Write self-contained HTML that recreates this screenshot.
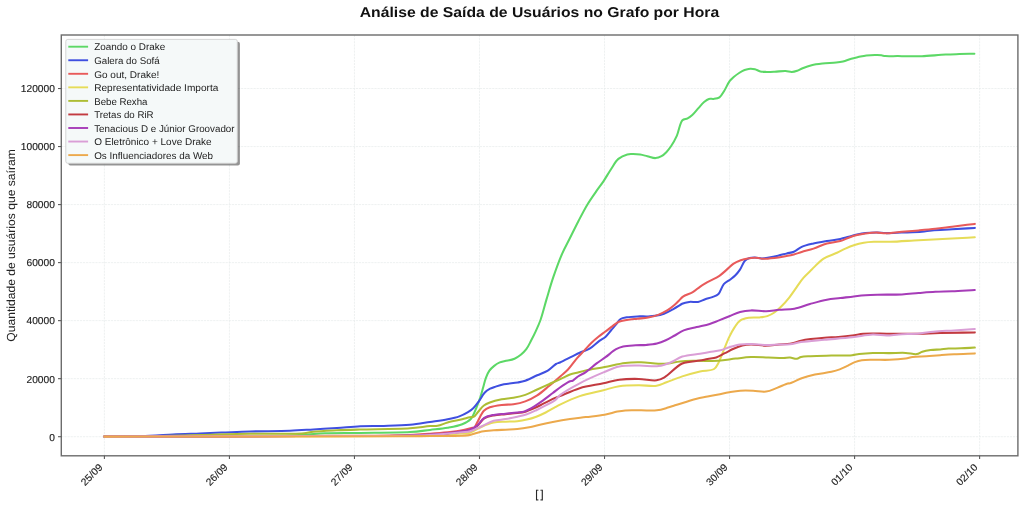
<!DOCTYPE html>
<html><head><meta charset="utf-8"><style>
html,body{margin:0;padding:0;background:#fff;}
svg{display:block;will-change:transform;}
text{font-family:"Liberation Sans", sans-serif;text-rendering:geometricPrecision;}
</style></head><body>
<svg width="1024" height="507" viewBox="0 0 1024 507">
<rect x="0" y="0" width="1024" height="507" fill="#ffffff"/>

<text x="359.7" y="17.3" font-size="14.20" font-weight="bold" fill="#111" textLength="359.54" lengthAdjust="spacingAndGlyphs">Análise de Saída de Usuários no Grafo por Hora</text>
<g stroke="#e6ebeb" stroke-width="0.7" stroke-dasharray="2.2,0.9"><line x1="104.40" y1="35.0" x2="104.40" y2="455.8"/><line x1="229.43" y1="35.0" x2="229.43" y2="455.8"/><line x1="354.46" y1="35.0" x2="354.46" y2="455.8"/><line x1="479.49" y1="35.0" x2="479.49" y2="455.8"/><line x1="604.52" y1="35.0" x2="604.52" y2="455.8"/><line x1="729.55" y1="35.0" x2="729.55" y2="455.8"/><line x1="854.58" y1="35.0" x2="854.58" y2="455.8"/><line x1="979.61" y1="35.0" x2="979.61" y2="455.8"/><line x1="61.3" y1="436.70" x2="1017.9" y2="436.70"/><line x1="61.3" y1="378.67" x2="1017.9" y2="378.67"/><line x1="61.3" y1="320.64" x2="1017.9" y2="320.64"/><line x1="61.3" y1="262.61" x2="1017.9" y2="262.61"/><line x1="61.3" y1="204.58" x2="1017.9" y2="204.58"/><line x1="61.3" y1="146.55" x2="1017.9" y2="146.55"/><line x1="61.3" y1="88.52" x2="1017.9" y2="88.52"/></g>
<path d="M104.4,436.6 C136.27,436.53 173.25,436.53 200.0,436.4 C219.34,436.30 234.26,436.16 250.0,436.0 C264.08,435.86 279.37,435.90 290.0,435.5 C297.06,435.24 301.75,434.78 307.6,434.4 C313.42,434.02 318.19,433.46 325.0,433.2 C334.64,432.83 347.30,433.06 360.0,432.9 C375.18,432.71 397.10,432.91 410.0,432.1 C418.18,431.59 423.55,430.64 430.0,429.9 C436.06,429.21 442.03,428.80 447.6,427.8 C452.72,426.88 458.09,426.01 462.2,424.3 C465.57,422.90 468.51,421.51 470.8,419.0 C473.33,416.23 474.69,411.71 476.3,408.0 C477.88,404.38 479.22,400.57 480.4,397.0 C481.49,393.69 482.27,390.53 483.2,387.3 C484.13,384.07 484.87,380.51 486.0,377.6 C486.98,375.06 487.97,372.69 489.4,370.7 C490.74,368.83 492.45,367.29 494.2,365.9 C495.92,364.53 497.90,363.21 499.8,362.4 C501.51,361.67 503.01,361.60 505.0,361.1 C507.69,360.42 511.74,359.87 514.5,358.7 C516.90,357.68 518.86,356.35 520.8,354.8 C522.80,353.20 524.66,351.39 526.3,349.2 C528.14,346.74 529.54,343.56 531.1,340.6 C532.71,337.53 534.28,334.41 535.8,331.1 C537.42,327.57 538.96,324.32 540.5,320.0 C542.55,314.24 544.41,306.39 546.5,299.4 C548.67,292.13 550.75,284.67 553.3,277.2 C555.96,269.41 559.19,260.49 562.2,253.6 C564.64,248.02 567.02,243.96 569.6,238.8 C572.43,233.14 575.50,226.78 578.5,221.0 C581.40,215.42 584.23,209.79 587.3,204.7 C590.15,199.97 593.34,195.53 596.2,191.4 C598.75,187.72 601.19,184.70 603.6,181.1 C606.13,177.32 608.47,172.98 611.0,169.2 C613.41,165.60 615.47,161.41 618.4,158.9 C621.00,156.67 624.58,155.12 627.3,154.4 C629.38,153.85 631.07,154.08 633.1,154.1 C635.35,154.12 637.85,154.25 640.2,154.6 C642.58,154.95 644.84,155.64 647.3,156.2 C649.96,156.80 653.08,158.21 655.6,158.1 C657.75,158.01 659.72,157.18 661.5,156.2 C663.29,155.22 664.78,153.75 666.3,152.2 C667.97,150.50 669.44,148.63 671.0,146.3 C672.98,143.33 675.11,139.57 676.9,135.6 C678.97,131.01 679.84,122.78 682.4,120.2 C683.89,118.70 685.96,119.15 687.6,118.3 C689.27,117.43 690.73,116.40 692.3,115.0 C694.25,113.26 696.22,110.58 698.2,108.4 C700.16,106.24 702.13,103.66 704.1,102.0 C705.70,100.66 707.23,99.39 708.9,98.9 C710.41,98.45 711.96,99.12 713.6,98.9 C715.47,98.65 717.80,98.47 719.5,97.3 C721.46,95.95 722.73,93.15 724.3,90.7 C726.11,87.87 727.77,83.62 729.6,81.2 C730.93,79.43 732.19,78.42 733.7,77.1 C735.33,75.68 737.25,74.20 739.1,73.0 C740.88,71.85 742.72,70.72 744.6,70.0 C746.39,69.32 748.32,68.81 750.1,68.7 C751.75,68.59 753.28,68.79 754.9,69.2 C756.68,69.65 758.40,70.95 760.3,71.4 C762.26,71.87 764.29,71.84 766.5,71.9 C769.04,71.97 771.77,71.83 774.7,71.7 C778.08,71.55 782.48,70.88 785.6,71.0 C787.96,71.09 789.81,71.97 791.8,71.9 C793.67,71.83 795.48,71.28 797.2,70.7 C798.88,70.14 800.10,69.26 802.0,68.5 C804.63,67.45 808.26,66.03 811.6,65.2 C815.08,64.34 818.65,63.94 822.5,63.5 C826.80,63.01 832.43,62.94 836.2,62.5 C838.87,62.19 840.64,61.97 843.0,61.4 C845.65,60.76 848.65,59.44 851.3,58.7 C853.69,58.04 855.80,57.63 858.2,57.1 C860.81,56.53 863.46,55.76 866.4,55.4 C869.76,54.99 874.54,54.95 877.3,55.0 C879.00,55.03 880.04,55.12 881.4,55.3 C882.77,55.48 883.75,55.93 885.5,56.1 C888.51,56.39 894.21,56.05 897.9,56.1 C900.89,56.14 903.31,56.28 906.0,56.3 C908.67,56.32 911.33,56.22 914.0,56.2 C916.67,56.18 918.63,56.31 922.0,56.2 C927.81,56.00 938.87,54.95 945.7,54.6 C950.89,54.33 954.73,54.25 959.4,54.1 C964.29,53.95 969.40,53.83 974.4,53.7" fill="none" stroke="#5cd866" stroke-width="2.05" stroke-linejoin="round" stroke-linecap="round"/>
<path d="M104.4,436.6 C119.60,436.33 137.38,436.29 150.0,435.8 C158.97,435.45 165.02,434.79 173.0,434.4 C181.64,433.98 191.51,433.72 200.0,433.4 C207.57,433.12 213.83,432.89 221.5,432.6 C230.33,432.27 239.70,431.80 250.0,431.5 C262.20,431.14 278.45,431.14 290.0,430.7 C298.84,430.37 305.59,429.85 313.4,429.4 C321.23,428.95 329.08,428.53 336.9,428.0 C344.71,427.47 352.49,426.55 360.3,426.2 C368.12,425.85 375.76,426.12 383.8,425.9 C392.30,425.67 401.87,425.54 410.0,424.8 C417.13,424.15 423.55,422.95 430.0,422.0 C436.06,421.11 442.35,420.35 447.6,419.3 C451.92,418.44 455.75,417.68 459.3,416.4 C462.48,415.25 465.50,413.74 468.0,412.2 C470.12,410.90 471.77,409.70 473.5,408.0 C475.46,406.08 477.21,403.54 479.0,401.1 C480.91,398.50 482.54,394.96 484.6,392.8 C486.30,391.02 488.19,389.75 490.1,388.7 C491.87,387.73 493.56,387.27 495.6,386.6 C498.07,385.79 500.76,384.94 503.9,384.3 C507.89,383.49 513.80,383.21 517.7,382.5 C520.62,381.96 522.53,381.65 525.3,380.7 C528.88,379.48 533.34,377.03 537.2,375.3 C540.83,373.67 544.61,372.55 547.8,370.6 C550.84,368.75 553.66,365.34 556.0,364.0 C557.49,363.15 558.34,363.22 560.0,362.5 C562.92,361.23 568.26,358.36 571.8,356.6 C574.69,355.16 576.89,353.96 579.7,352.7 C582.79,351.32 586.44,350.56 589.6,348.7 C593.03,346.68 596.48,342.91 599.4,340.8 C601.60,339.21 603.52,338.55 605.4,336.9 C607.52,335.04 609.43,332.18 611.3,330.0 C612.98,328.04 614.53,326.26 616.1,324.4 C617.63,322.59 618.76,320.18 620.6,319.0 C622.36,317.87 624.44,317.72 626.8,317.3 C629.84,316.76 633.86,316.55 637.4,316.4 C640.96,316.25 644.90,316.53 648.1,316.4 C650.71,316.29 652.72,316.20 655.2,315.8 C657.99,315.35 661.12,314.74 664.0,313.7 C667.02,312.61 670.22,310.74 672.9,309.3 C675.18,308.08 677.42,306.75 679.1,305.7 C680.29,304.96 680.83,304.27 682.1,303.7 C683.91,302.89 686.68,302.21 689.2,301.9 C691.98,301.55 695.34,302.41 698.1,301.9 C700.65,301.43 702.82,300.00 705.2,299.2 C707.55,298.41 710.05,298.00 712.3,297.1 C714.48,296.22 716.73,295.64 718.5,293.9 C720.74,291.70 721.63,286.55 723.8,284.1 C725.59,282.08 728.03,281.20 730.0,279.7 C731.89,278.26 733.77,276.93 735.4,275.3 C737.03,273.67 738.35,272.02 739.8,269.9 C741.60,267.26 743.09,262.49 745.1,260.5 C746.49,259.12 747.98,258.50 749.6,258.0 C751.25,257.49 753.01,257.47 754.9,257.5 C757.10,257.54 759.63,258.40 762.0,258.4 C764.37,258.40 766.61,257.91 769.1,257.5 C771.91,257.04 775.05,256.38 778.0,255.7 C780.95,255.02 784.02,254.10 786.8,253.4 C789.29,252.78 791.55,252.67 793.9,251.7 C796.53,250.61 798.73,248.21 801.7,246.9 C805.14,245.38 809.42,244.47 813.5,243.5 C817.80,242.48 822.43,241.75 826.9,241.0 C831.36,240.25 836.37,239.81 840.3,239.0 C843.44,238.36 845.90,237.53 848.7,236.8 C851.50,236.07 854.29,235.22 857.1,234.6 C859.89,233.99 862.46,233.44 865.5,233.1 C869.07,232.71 873.62,232.57 877.2,232.6 C880.23,232.63 882.34,233.05 885.6,233.1 C890.12,233.16 896.11,232.80 901.8,232.6 C908.14,232.38 916.35,232.29 921.9,231.8 C925.85,231.45 928.05,230.78 932.0,230.4 C937.55,229.86 945.20,229.70 952.1,229.3 C959.44,228.87 967.23,228.37 974.8,227.9" fill="none" stroke="#3f4fe0" stroke-width="2.05" stroke-linejoin="round" stroke-linecap="round"/>
<path d="M104.4,436.6 C169.60,436.40 245.63,436.27 300.0,436.0 C338.87,435.80 376.41,436.01 400.0,435.3 C412.93,434.91 421.33,434.30 430.0,433.7 C436.65,433.24 442.01,432.82 447.6,432.2 C452.70,431.63 457.81,431.03 462.2,430.2 C465.87,429.51 470.04,428.34 472.2,427.8 C473.24,427.54 473.77,427.77 474.5,427.2 C475.77,426.21 476.67,423.24 478.0,420.9 C479.70,417.92 481.59,413.12 483.9,410.8 C485.67,409.02 487.40,408.22 489.8,407.3 C493.00,406.07 497.72,405.40 501.7,404.9 C505.62,404.41 509.59,404.87 513.5,404.3 C517.46,403.72 521.44,402.83 525.3,401.4 C529.34,399.91 533.36,397.86 537.2,395.4 C541.28,392.78 545.09,389.22 549.0,386.0 C552.96,382.73 557.36,378.90 560.8,375.9 C563.51,373.54 565.57,372.06 568.0,369.5 C570.99,366.35 574.19,361.45 577.1,358.1 C579.55,355.28 581.84,353.11 584.2,350.6 C586.57,348.08 588.87,345.35 591.3,343.0 C593.61,340.77 596.00,338.74 598.4,336.8 C600.73,334.92 603.14,333.28 605.5,331.5 C607.87,329.71 610.30,327.79 612.6,326.1 C614.72,324.54 616.49,322.73 618.8,321.7 C621.20,320.63 623.93,320.38 626.8,319.9 C630.07,319.35 633.86,319.08 637.4,318.7 C640.96,318.32 644.57,318.28 648.1,317.6 C651.67,316.92 655.38,315.88 658.7,314.6 C661.86,313.39 664.87,311.89 667.6,310.2 C670.18,308.60 672.66,306.56 674.7,304.8 C676.39,303.34 677.68,301.90 679.1,300.5 C680.44,299.17 681.27,297.81 683.0,296.6 C685.42,294.91 689.88,293.84 692.8,292.1 C695.45,290.53 697.50,288.44 699.9,286.8 C702.23,285.21 704.28,283.97 707.0,282.4 C710.53,280.37 715.94,278.12 719.4,275.8 C722.21,273.92 724.15,271.91 726.5,269.9 C728.88,267.87 731.12,265.35 733.6,263.7 C735.87,262.19 738.29,261.09 740.7,260.2 C743.02,259.34 745.17,258.78 747.8,258.4 C750.96,257.95 755.81,257.76 758.4,258.0 C759.93,258.14 760.43,258.68 762.0,258.8 C764.88,259.02 770.43,258.44 774.4,258.0 C778.11,257.59 781.71,256.91 785.1,256.3 C788.18,255.74 791.08,255.26 793.9,254.5 C796.60,253.78 798.82,252.78 801.7,251.9 C805.22,250.82 809.47,249.93 813.5,248.6 C817.86,247.17 822.38,244.77 826.9,243.5 C831.31,242.26 836.40,242.12 840.3,241.0 C843.47,240.09 845.88,238.69 848.7,237.7 C851.48,236.72 854.28,235.80 857.1,235.1 C859.88,234.41 862.46,233.91 865.5,233.5 C869.07,233.02 873.62,232.59 877.2,232.6 C880.23,232.61 882.35,233.31 885.6,233.3 C890.12,233.28 896.35,232.28 901.8,231.8 C907.35,231.31 913.01,230.90 918.6,230.4 C924.18,229.90 929.73,229.41 935.3,228.8 C940.90,228.18 946.08,227.45 952.1,226.7 C959.10,225.83 967.23,224.83 974.8,223.9" fill="none" stroke="#e85a5a" stroke-width="2.05" stroke-linejoin="round" stroke-linecap="round"/>
<path d="M104.4,436.6 C169.60,436.47 245.63,436.36 300.0,436.2 C338.87,436.08 376.41,436.24 400.0,435.8 C412.92,435.56 419.84,435.19 430.0,434.8 C440.50,434.40 454.89,433.87 462.0,433.4 C465.56,433.17 467.16,433.51 470.0,432.7 C473.65,431.66 477.80,428.40 481.8,426.7 C485.70,425.05 489.69,423.43 493.7,422.6 C497.59,421.80 501.56,421.93 505.5,421.7 C509.43,421.47 513.59,421.59 517.3,421.2 C520.65,420.85 523.66,420.34 526.8,419.6 C529.99,418.85 533.18,417.87 536.3,416.7 C539.48,415.51 542.59,414.06 545.7,412.5 C548.89,410.90 552.56,408.65 555.2,407.2 C557.07,406.17 557.83,405.66 560.0,404.6 C564.31,402.51 572.73,398.45 579.7,396.1 C587.14,393.59 596.30,391.98 603.4,390.2 C609.20,388.74 613.60,387.04 619.2,386.2 C625.36,385.27 632.51,385.25 638.9,385.2 C644.96,385.15 651.61,386.57 656.6,385.8 C660.44,385.21 662.82,383.64 666.5,382.3 C671.16,380.61 676.85,378.19 682.3,376.4 C688.00,374.54 694.40,372.66 700.0,371.4 C704.94,370.29 710.98,370.97 714.1,369.0 C716.36,367.58 717.02,365.41 718.4,362.9 C720.30,359.46 721.98,354.23 723.8,349.9 C725.62,345.56 727.37,340.88 729.3,336.9 C731.02,333.35 732.75,329.95 734.7,327.1 C736.39,324.62 737.82,322.14 740.1,320.6 C742.48,318.99 745.70,318.34 748.8,317.8 C752.17,317.21 756.31,317.74 759.6,317.4 C762.39,317.11 764.84,316.91 767.3,316.1 C769.78,315.28 772.13,314.03 774.4,312.5 C776.88,310.83 779.20,308.58 781.5,306.3 C783.95,303.87 786.23,301.26 788.6,298.3 C791.29,294.94 794.13,290.65 796.7,287.1 C799.04,283.88 800.92,280.81 803.4,277.9 C805.94,274.93 808.73,272.45 811.8,269.5 C815.37,266.07 819.28,261.41 823.6,258.6 C827.72,255.92 833.07,254.63 837.0,252.8 C840.15,251.33 842.57,249.88 845.4,248.6 C848.18,247.35 850.84,246.16 853.8,245.2 C856.95,244.17 860.44,243.27 863.8,242.7 C867.14,242.14 870.14,241.97 873.9,241.8 C878.64,241.59 883.87,241.97 890.0,241.8 C898.18,241.57 908.69,240.73 918.6,240.2 C929.32,239.63 942.02,239.02 952.1,238.5 C960.40,238.07 967.23,237.70 974.8,237.3" fill="none" stroke="#e6dc58" stroke-width="2.05" stroke-linejoin="round" stroke-linecap="round"/>
<path d="M104.4,436.6 C119.60,436.50 134.45,436.55 150.0,436.3 C166.28,436.03 183.33,435.43 200.0,435.0 C216.67,434.57 234.26,433.88 250.0,433.7 C264.08,433.53 280.07,434.00 290.0,433.8 C295.90,433.68 299.90,433.63 304.1,433.2 C307.53,432.85 309.58,432.12 313.4,431.7 C319.44,431.04 329.07,430.67 336.9,430.3 C344.71,429.93 351.05,429.77 360.3,429.5 C373.78,429.11 397.15,429.16 410.0,428.3 C418.17,427.75 424.91,426.48 430.0,426.1 C433.13,425.87 434.93,426.28 437.6,425.8 C440.74,425.23 443.92,423.51 447.6,422.5 C451.98,421.30 458.13,420.28 462.2,419.3 C465.15,418.59 467.64,417.74 469.8,417.3 C471.37,416.98 472.65,417.38 473.9,416.7 C475.44,415.86 476.50,413.69 478.0,412.0 C479.78,410.00 481.77,407.12 483.9,405.5 C485.75,404.09 487.44,403.41 489.8,402.5 C493.03,401.26 497.71,400.09 501.7,399.3 C505.62,398.53 509.59,398.53 513.5,397.8 C517.45,397.07 521.42,396.24 525.3,394.9 C529.32,393.51 533.24,391.29 537.2,389.5 C541.14,387.72 545.07,385.97 549.0,384.2 C552.93,382.43 557.12,380.61 560.8,378.9 C564.07,377.39 566.99,375.60 570.0,374.5 C572.71,373.51 575.35,373.07 578.0,372.4 C580.61,371.74 582.62,371.18 585.8,370.5 C590.72,369.45 598.28,368.24 604.7,367.0 C611.40,365.71 618.78,363.66 625.2,362.9 C630.78,362.24 635.61,362.19 641.0,362.3 C646.66,362.42 653.47,363.58 658.4,363.7 C662.04,363.79 664.55,363.73 667.9,363.4 C671.70,363.03 675.63,361.84 680.0,361.4 C685.10,360.89 690.77,360.91 696.7,360.8 C703.46,360.68 711.58,361.23 718.4,360.8 C724.53,360.41 730.19,359.23 735.8,358.6 C741.03,358.01 745.76,357.30 751.0,357.1 C756.57,356.89 762.72,357.36 768.3,357.5 C773.53,357.63 779.49,357.94 783.5,357.9 C786.12,357.87 787.81,357.48 790.0,357.6 C792.27,357.73 794.93,358.93 796.9,358.7 C798.47,358.51 799.30,357.41 801.0,357.0 C803.51,356.39 806.86,356.41 810.7,356.2 C816.30,355.89 824.49,355.77 831.4,355.6 C838.32,355.43 847.14,355.65 852.2,355.2 C855.13,354.94 856.40,354.41 859.1,354.1 C862.90,353.66 868.09,353.27 872.9,353.1 C878.15,352.91 883.92,353.13 889.4,353.1 C894.85,353.07 900.79,352.67 905.7,352.9 C909.76,353.09 913.79,354.54 916.8,354.1 C919.00,353.78 920.24,352.43 922.3,351.8 C924.75,351.04 927.72,350.50 930.6,350.1 C933.67,349.68 937.12,349.66 940.2,349.4 C943.07,349.16 945.45,348.78 948.5,348.6 C952.24,348.38 956.73,348.46 961.0,348.3 C965.49,348.13 970.20,347.83 974.8,347.6" fill="none" stroke="#adbd34" stroke-width="2.05" stroke-linejoin="round" stroke-linecap="round"/>
<path d="M104.4,436.6 C169.60,436.40 245.63,436.14 300.0,436.0 C338.87,435.90 376.41,436.26 400.0,435.8 C412.93,435.55 421.33,435.18 430.0,434.7 C436.65,434.33 442.01,433.95 447.6,433.4 C452.70,432.90 458.10,432.30 462.2,431.6 C465.22,431.09 467.52,430.83 470.0,429.9 C472.49,428.97 474.86,427.74 477.1,426.0 C479.63,424.03 481.39,420.17 484.2,418.4 C486.95,416.67 490.32,416.10 493.7,415.4 C497.38,414.64 501.57,414.60 505.5,414.2 C509.43,413.80 513.87,413.42 517.3,413.0 C519.97,412.68 521.90,412.64 524.4,412.0 C527.38,411.24 530.77,409.77 533.9,408.4 C537.10,407.01 540.25,405.29 543.4,403.7 C546.55,402.12 549.84,400.23 552.8,398.9 C555.33,397.77 557.01,397.28 560.0,396.1 C564.95,394.14 572.73,390.30 579.7,388.2 C587.14,385.96 596.31,384.84 603.4,383.3 C609.21,382.04 613.61,380.44 619.2,379.7 C625.37,378.88 632.51,378.78 638.9,378.9 C644.96,379.02 651.93,380.97 656.6,380.3 C659.82,379.84 661.49,378.99 664.5,377.3 C669.42,374.54 676.01,366.24 682.3,363.5 C687.91,361.05 695.34,361.47 700.0,360.6 C703.07,360.03 704.98,359.50 707.6,359.0 C710.37,358.47 713.39,358.42 716.2,357.5 C719.16,356.53 722.00,354.65 724.9,353.2 C727.80,351.75 730.66,350.08 733.6,348.8 C736.46,347.55 739.36,346.32 742.3,345.6 C745.16,344.90 747.70,344.59 751.0,344.5 C755.34,344.38 761.25,345.63 766.1,345.6 C770.62,345.58 775.04,344.81 779.2,344.5 C782.97,344.22 786.42,344.41 790.0,343.8 C793.68,343.17 797.43,341.50 801.0,340.7 C804.31,339.96 807.17,339.57 810.7,339.1 C814.89,338.54 819.90,338.07 824.5,337.7 C829.10,337.33 833.70,337.27 838.3,336.9 C842.93,336.53 847.84,336.06 852.2,335.5 C856.09,335.00 859.64,334.13 863.2,333.8 C866.53,333.49 869.38,333.52 872.9,333.5 C877.10,333.48 881.38,333.74 886.7,333.8 C893.99,333.88 903.83,333.91 912.6,333.8 C921.65,333.69 930.48,333.32 940.2,333.1 C951.08,332.85 963.27,332.63 974.8,332.4" fill="none" stroke="#c23a40" stroke-width="2.05" stroke-linejoin="round" stroke-linecap="round"/>
<path d="M104.4,436.6 C169.60,436.40 245.63,436.14 300.0,436.0 C338.87,435.90 376.41,436.30 400.0,435.8 C412.93,435.53 421.33,435.12 430.0,434.6 C436.65,434.20 442.01,433.79 447.6,433.2 C452.70,432.67 458.10,432.01 462.2,431.3 C465.22,430.78 467.53,430.54 470.0,429.6 C472.50,428.65 474.86,427.37 477.1,425.6 C479.63,423.59 481.39,419.69 484.2,417.9 C486.94,416.16 490.32,415.60 493.7,414.9 C497.38,414.14 501.57,414.10 505.5,413.7 C509.43,413.30 513.87,412.94 517.3,412.5 C519.97,412.16 521.93,412.19 524.4,411.4 C527.41,410.43 530.79,408.44 533.9,406.6 C537.13,404.69 540.27,402.35 543.4,400.1 C546.57,397.82 549.66,395.36 552.8,393.0 C555.96,390.63 559.25,387.96 562.3,385.9 C564.96,384.10 568.04,381.95 570.0,381.2 C571.08,380.79 571.71,381.15 572.7,380.7 C574.25,380.00 576.00,377.84 578.0,376.5 C580.30,374.96 583.07,373.95 585.8,372.1 C589.20,369.80 593.13,366.00 596.6,363.4 C599.67,361.10 602.43,359.43 605.5,357.2 C608.90,354.73 612.80,351.03 616.1,349.2 C618.60,347.82 620.46,347.14 623.2,346.5 C626.71,345.68 631.62,345.57 635.6,345.3 C639.29,345.05 642.75,345.20 646.3,344.9 C649.85,344.60 653.56,344.31 656.9,343.5 C660.04,342.74 662.88,341.60 665.8,340.3 C668.82,338.95 671.73,337.14 674.7,335.5 C677.70,333.84 680.32,331.76 683.7,330.4 C687.54,328.86 692.36,328.18 696.7,327.1 C701.03,326.02 705.83,325.10 709.7,323.9 C712.92,322.90 715.34,321.78 718.4,320.6 C721.83,319.27 725.68,317.75 729.3,316.3 C732.91,314.85 736.43,312.88 740.1,311.9 C743.67,310.94 747.06,310.55 751.0,310.4 C755.62,310.22 761.25,311.43 766.1,311.3 C770.63,311.18 774.67,310.22 779.2,309.8 C784.07,309.34 789.35,309.63 794.4,308.7 C799.62,307.74 804.68,305.48 810.0,304.0 C815.50,302.47 821.56,300.69 826.9,299.7 C831.60,298.83 835.83,298.65 840.3,298.1 C844.79,297.55 849.46,296.90 853.8,296.4 C857.84,295.94 861.60,295.48 865.5,295.2 C869.40,294.92 872.58,294.83 877.2,294.7 C883.89,294.52 894.39,294.75 901.8,294.4 C907.94,294.11 913.01,293.43 918.6,293.0 C924.17,292.57 929.72,292.08 935.3,291.8 C940.89,291.52 946.08,291.56 952.1,291.3 C959.10,291.00 967.23,290.43 974.8,290.0" fill="none" stroke="#a63cb8" stroke-width="2.05" stroke-linejoin="round" stroke-linecap="round"/>
<path d="M104.4,436.6 C169.60,436.40 245.63,436.14 300.0,436.0 C338.87,435.90 376.41,436.18 400.0,435.8 C412.92,435.59 419.85,435.48 430.0,434.9 C440.50,434.30 454.89,432.90 462.0,432.2 C465.56,431.85 467.14,432.06 470.0,431.3 C473.62,430.34 477.87,427.94 481.8,426.2 C485.77,424.44 489.66,421.98 493.7,420.8 C497.56,419.67 501.58,419.78 505.5,419.1 C509.44,418.42 513.59,417.55 517.3,416.7 C520.65,415.94 523.68,415.36 526.8,414.3 C530.01,413.21 533.17,411.67 536.3,410.2 C539.47,408.71 542.57,407.07 545.7,405.4 C548.87,403.71 552.68,402.05 555.2,400.1 C557.21,398.55 557.69,396.94 560.0,395.1 C564.21,391.75 572.72,386.98 579.7,383.3 C587.14,379.38 596.25,375.38 603.4,372.4 C609.15,370.01 613.55,367.67 619.2,366.5 C625.31,365.23 632.33,365.57 638.9,365.5 C645.47,365.43 652.91,366.85 658.6,366.1 C663.12,365.50 666.61,364.05 670.5,362.5 C674.51,360.90 677.85,358.04 682.3,356.6 C687.49,354.92 694.98,354.53 700.0,353.7 C703.72,353.09 706.37,352.65 709.7,352.1 C713.23,351.52 717.21,351.16 720.6,350.3 C723.70,349.52 726.22,348.23 729.3,347.3 C732.69,346.28 736.46,345.03 740.1,344.5 C743.70,343.97 747.07,344.04 751.0,344.1 C755.63,344.17 761.24,345.05 766.1,345.1 C770.62,345.15 775.04,344.65 779.2,344.5 C782.97,344.36 786.40,344.59 790.0,344.2 C793.67,343.80 796.63,342.73 801.0,342.1 C807.35,341.19 816.34,340.57 824.5,339.8 C833.35,338.97 843.65,338.26 852.2,337.3 C859.61,336.46 866.69,334.69 872.9,334.5 C877.96,334.34 882.25,335.52 886.7,335.5 C890.87,335.48 894.23,334.81 898.8,334.5 C904.78,334.09 913.31,333.95 919.5,333.4 C924.57,332.95 928.22,332.17 933.3,331.7 C939.52,331.12 947.18,330.85 954.1,330.4 C961.01,329.95 967.90,329.47 974.8,329.0" fill="none" stroke="#da9ed6" stroke-width="2.05" stroke-linejoin="round" stroke-linecap="round"/>
<path d="M104.4,436.6 C152.93,436.57 201.11,436.55 250.0,436.5 C299.63,436.45 369.10,436.48 400.0,436.3 C413.82,436.22 419.84,436.10 430.0,436.0 C440.49,435.90 454.89,436.04 462.0,435.7 C465.56,435.53 467.11,435.55 470.0,435.0 C473.58,434.32 477.82,432.28 481.8,431.5 C485.72,430.73 489.74,430.60 493.7,430.3 C497.64,430.00 501.57,429.90 505.5,429.7 C509.43,429.50 513.37,429.50 517.3,429.1 C521.27,428.70 525.26,428.08 529.2,427.3 C533.16,426.52 537.06,425.28 541.0,424.4 C544.92,423.52 548.49,422.80 552.8,422.0 C557.99,421.04 564.38,419.93 570.0,419.1 C575.37,418.31 580.30,417.80 585.8,417.1 C591.82,416.34 599.06,415.75 604.7,414.7 C609.35,413.84 613.57,412.34 617.3,411.6 C620.22,411.02 622.10,410.64 625.2,410.4 C629.55,410.06 635.73,410.32 641.0,410.3 C646.27,410.28 652.03,410.87 656.8,410.3 C660.86,409.81 664.63,408.53 667.9,407.6 C670.55,406.85 672.38,406.12 675.0,405.3 C678.24,404.28 682.28,403.10 685.9,402.0 C689.51,400.90 693.07,399.60 696.7,398.7 C700.30,397.81 703.98,397.32 707.6,396.6 C711.21,395.88 714.79,395.13 718.4,394.4 C722.02,393.67 725.67,392.82 729.3,392.2 C732.90,391.59 736.32,390.96 740.1,390.7 C744.22,390.42 748.77,390.55 753.1,390.7 C757.44,390.85 762.01,392.13 766.1,391.6 C769.95,391.10 773.39,389.24 777.0,387.9 C780.63,386.55 785.53,384.05 787.8,383.5 C788.79,383.26 789.00,383.55 790.0,383.3 C792.48,382.67 798.21,379.46 802.4,378.0 C806.51,376.57 810.42,375.59 814.9,374.6 C819.99,373.48 826.86,372.84 831.4,371.8 C834.66,371.05 836.97,370.41 839.7,369.4 C842.51,368.36 845.37,366.87 848.0,365.6 C850.42,364.43 852.55,362.99 854.9,362.1 C857.15,361.25 859.20,360.69 861.8,360.3 C865.04,359.81 868.83,359.89 872.9,359.8 C877.86,359.69 883.92,360.03 889.4,359.8 C894.85,359.57 901.43,359.01 905.7,358.4 C908.50,358.00 909.89,357.35 912.6,357.0 C916.40,356.51 921.80,356.50 926.4,356.2 C931.00,355.90 935.59,355.52 940.2,355.2 C944.82,354.88 949.01,354.58 954.1,354.3 C960.31,353.96 967.90,353.70 974.8,353.4" fill="none" stroke="#eca94c" stroke-width="2.05" stroke-linejoin="round" stroke-linecap="round"/>
<rect x="61.3" y="35.0" width="956.60" height="420.80" fill="none" stroke="#6c6c6c" stroke-width="1.4"/>
<g stroke="#5a5a5a" stroke-width="1.1"><line x1="104.40" y1="455.8" x2="104.40" y2="459.0"/><line x1="229.43" y1="455.8" x2="229.43" y2="459.0"/><line x1="354.46" y1="455.8" x2="354.46" y2="459.0"/><line x1="479.49" y1="455.8" x2="479.49" y2="459.0"/><line x1="604.52" y1="455.8" x2="604.52" y2="459.0"/><line x1="729.55" y1="455.8" x2="729.55" y2="459.0"/><line x1="854.58" y1="455.8" x2="854.58" y2="459.0"/><line x1="979.61" y1="455.8" x2="979.61" y2="459.0"/><line x1="58.0" y1="436.70" x2="61.3" y2="436.70"/><line x1="58.0" y1="378.67" x2="61.3" y2="378.67"/><line x1="58.0" y1="320.64" x2="61.3" y2="320.64"/><line x1="58.0" y1="262.61" x2="61.3" y2="262.61"/><line x1="58.0" y1="204.58" x2="61.3" y2="204.58"/><line x1="58.0" y1="146.55" x2="61.3" y2="146.55"/><line x1="58.0" y1="88.52" x2="61.3" y2="88.52"/></g>
<g fill="#222" stroke="#222" stroke-width="0.15"><text x="54.9" y="440.55" text-anchor="end" font-size="10.1" textLength="5.68" lengthAdjust="spacingAndGlyphs">0</text><text x="54.9" y="382.52" text-anchor="end" font-size="10.1" textLength="28.41" lengthAdjust="spacingAndGlyphs">20000</text><text x="54.9" y="324.49" text-anchor="end" font-size="10.1" textLength="28.41" lengthAdjust="spacingAndGlyphs">40000</text><text x="54.9" y="266.46" text-anchor="end" font-size="10.1" textLength="28.41" lengthAdjust="spacingAndGlyphs">60000</text><text x="54.9" y="208.43" text-anchor="end" font-size="10.1" textLength="28.41" lengthAdjust="spacingAndGlyphs">80000</text><text x="54.9" y="150.40" text-anchor="end" font-size="10.1" textLength="34.09" lengthAdjust="spacingAndGlyphs">100000</text><text x="54.9" y="92.37" text-anchor="end" font-size="10.1" textLength="34.09" lengthAdjust="spacingAndGlyphs">120000</text></g>
<g fill="#222" stroke="#222" stroke-width="0.15"><text transform="translate(103.20,468.00) rotate(-45)" text-anchor="end" font-size="10.1" textLength="25.73" lengthAdjust="spacingAndGlyphs">25/09</text><text transform="translate(228.23,468.00) rotate(-45)" text-anchor="end" font-size="10.1" textLength="25.73" lengthAdjust="spacingAndGlyphs">26/09</text><text transform="translate(353.26,468.00) rotate(-45)" text-anchor="end" font-size="10.1" textLength="25.73" lengthAdjust="spacingAndGlyphs">27/09</text><text transform="translate(478.29,468.00) rotate(-45)" text-anchor="end" font-size="10.1" textLength="25.73" lengthAdjust="spacingAndGlyphs">28/09</text><text transform="translate(603.32,468.00) rotate(-45)" text-anchor="end" font-size="10.1" textLength="25.73" lengthAdjust="spacingAndGlyphs">29/09</text><text transform="translate(728.35,468.00) rotate(-45)" text-anchor="end" font-size="10.1" textLength="25.73" lengthAdjust="spacingAndGlyphs">30/09</text><text transform="translate(853.38,468.00) rotate(-45)" text-anchor="end" font-size="10.1" textLength="25.73" lengthAdjust="spacingAndGlyphs">01/10</text><text transform="translate(978.41,468.00) rotate(-45)" text-anchor="end" font-size="10.1" textLength="25.73" lengthAdjust="spacingAndGlyphs">02/10</text></g>
<text transform="translate(14.9,245.5) rotate(-90)" text-anchor="middle" font-size="11.7" fill="#222" textLength="192.49" lengthAdjust="spacingAndGlyphs">Quantidade de usuários que saíram</text>
<text x="539.5" y="498.3" text-anchor="middle" font-size="11.2" fill="#222" stroke="#222" stroke-width="0.15" textLength="8.4" lengthAdjust="spacing">[]</text>
<rect x="68.39999999999999" y="41.699999999999996" width="171.5" height="123.9" rx="2" fill="#000" opacity="0.42"/>
<rect x="65.8" y="39.4" width="171.5" height="123.9" rx="2" fill="#f5f9f9" stroke="#d0d0d0" stroke-width="0.9"/>
<line x1="68.3" y1="46.70" x2="88.1" y2="46.70" stroke="#5cd866" stroke-width="1.9"/>
<text x="94.2" y="50.45" font-size="9.8" fill="#222" textLength="71.03" lengthAdjust="spacingAndGlyphs">Zoando o Drake</text>
<line x1="68.3" y1="60.25" x2="88.1" y2="60.25" stroke="#3f4fe0" stroke-width="1.9"/>
<text x="94.2" y="64.00" font-size="9.8" fill="#222" textLength="65.48" lengthAdjust="spacingAndGlyphs">Galera do Sofá</text>
<line x1="68.3" y1="73.80" x2="88.1" y2="73.80" stroke="#e85a5a" stroke-width="1.9"/>
<text x="94.2" y="77.55" font-size="9.8" fill="#222" textLength="65.20" lengthAdjust="spacingAndGlyphs">Go out, Drake!</text>
<line x1="68.3" y1="87.35" x2="88.1" y2="87.35" stroke="#e6dc58" stroke-width="1.9"/>
<text x="94.2" y="91.10" font-size="9.8" fill="#222" textLength="124.19" lengthAdjust="spacingAndGlyphs">Representatividade Importa</text>
<line x1="68.3" y1="100.90" x2="88.1" y2="100.90" stroke="#adbd34" stroke-width="1.9"/>
<text x="94.2" y="104.65" font-size="9.8" fill="#222" textLength="53.26" lengthAdjust="spacingAndGlyphs">Bebe Rexha</text>
<line x1="68.3" y1="114.45" x2="88.1" y2="114.45" stroke="#c23a40" stroke-width="1.9"/>
<text x="94.2" y="118.20" font-size="9.8" fill="#222" textLength="59.41" lengthAdjust="spacingAndGlyphs">Tretas do RiR</text>
<line x1="68.3" y1="128.00" x2="88.1" y2="128.00" stroke="#a63cb8" stroke-width="1.9"/>
<text x="94.2" y="131.75" font-size="9.8" fill="#222" textLength="140.35" lengthAdjust="spacingAndGlyphs">Tenacious D e Júnior Groovador</text>
<line x1="68.3" y1="141.55" x2="88.1" y2="141.55" stroke="#da9ed6" stroke-width="1.9"/>
<text x="94.2" y="145.30" font-size="9.8" fill="#222" textLength="117.47" lengthAdjust="spacingAndGlyphs">O Eletrônico + Love Drake</text>
<line x1="68.3" y1="155.10" x2="88.1" y2="155.10" stroke="#eca94c" stroke-width="1.9"/>
<text x="94.2" y="158.85" font-size="9.8" fill="#222" textLength="118.80" lengthAdjust="spacingAndGlyphs">Os Influenciadores da Web</text>
</svg></body></html>
